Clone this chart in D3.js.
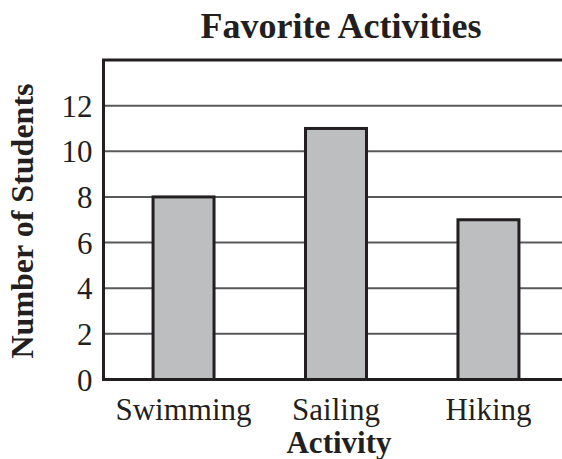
<!DOCTYPE html>
<html lang="en">
<head>
<meta charset="UTF-8">
<title>Favorite Activities</title>
<script src="https://d3js.org/d3.v7.min.js"></script>
<style>
    body { margin: 0; background: #fff; }
    svg { display: block; font-family: "Liberation Serif", "Times New Roman", serif; }
    .tick-label { font-size: 31px; fill: #231f20; }
    .axis-title { font-size: 31px; font-weight: bold; fill: #231f20; }
    .chart-title { font-size: 36px; font-weight: bold; fill: #231f20; }
</style>
</head>
<body>
<svg id="chart" width="562" height="459"></svg>
<script>
    // data
    const activities = ["Swimming", "Sailing", "Hiking"];
    const students = [8, 11, 7];
    const yTicks = [0, 2, 4, 6, 8, 10, 12];

    const svg = d3.select("#chart");
    const plotLeft = 103.5, plotRight = 562, plotTop = 60, plotBottom = 379.5;

    const x = d3.scaleBand()
        .domain(activities)
        .range([plotLeft, 568.5])
        .paddingInner(0.6)
        .paddingOuter(0.325);

    const y = d3.scaleLinear()
        .domain([0, 14])
        .range([plotBottom, plotTop]);

    // gridlines
    svg.append("g")
        .selectAll("line")
        .data(yTicks.filter(d => d > 0))
        .enter().append("line")
        .attr("x1", plotLeft).attr("x2", plotRight)
        .attr("y1", d => y(d)).attr("y2", d => y(d))
        .attr("stroke", "#58595b")
        .attr("stroke-width", 2);

    // bars
    svg.append("g")
        .selectAll("rect")
        .data(activities)
        .enter().append("rect")
        .attr("x", d => x(d))
        .attr("y", (d, i) => y(students[i]))
        .attr("width", x.bandwidth())
        .attr("height", (d, i) => plotBottom - y(students[i]))
        .attr("fill", "#bcbec0")
        .attr("stroke", "#231f20")
        .attr("stroke-width", 3);

    // frame: top, left, bottom
    svg.append("path")
        .attr("d", `M${plotRight},${plotTop}H${plotLeft}V${plotBottom}H${plotRight}`)
        .attr("fill", "none")
        .attr("stroke", "#231f20")
        .attr("stroke-width", 3);

    // y tick labels
    svg.append("g")
        .selectAll("text")
        .data(yTicks)
        .enter().append("text")
        .attr("class", "tick-label")
        .attr("x", plotLeft - 11)
        .attr("y", d => y(d) + 11)
        .attr("text-anchor", "end")
        .text(d => d);

    // x tick labels
    svg.append("g")
        .selectAll("text")
        .data(activities)
        .enter().append("text")
        .attr("class", "tick-label")
        .attr("x", d => x(d) + x.bandwidth() / 2)
        .attr("y", 420)
        .attr("text-anchor", "middle")
        .text(d => d);

    svg.append("text")
        .attr("class", "chart-title")
        .attr("x", 341)
        .attr("y", 38)
        .attr("text-anchor", "middle")
        .text("Favorite Activities");

    svg.append("text")
        .attr("class", "axis-title")
        .attr("x", 339)
        .attr("y", 453)
        .attr("text-anchor", "middle")
        .text("Activity");

    svg.append("text")
        .attr("class", "axis-title")
        .style("font-size", "32px")
        .attr("transform", "translate(33,221) rotate(-90)")
        .attr("text-anchor", "middle")
        .text("Number of Students");
</script>
</body>
</html>
